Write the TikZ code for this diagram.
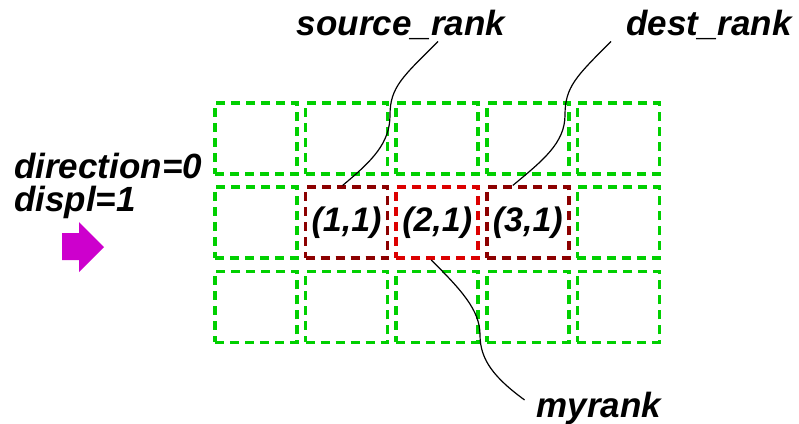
\documentclass[tikz,border=0pt]{standalone}
\usepackage{fontspec}
\setmainfont{Liberation Sans}
\usepackage{xcolor}
\usetikzlibrary{positioning}
\definecolor{gridgreen}{RGB}{0,208,0}
\definecolor{nbred}{RGB}{140,0,0}
\definecolor{myred}{RGB}{220,0,0}
\definecolor{shiftmag}{RGB}{205,0,205}
\tikzset{
  cell/.style={draw=gridgreen, line width=3.5pt, dash pattern=on 9pt off 6pt,
               minimum width=82pt, minimum height=71pt, inner sep=0pt},
  nbcell/.style={cell, draw=nbred, font=\fontsize{34}{38}\selectfont\bfseries\itshape},
  mecell/.style={nbcell, draw=myred},
  lbl/.style={font=\fontsize{35}{40}\selectfont\bfseries\itshape, inner sep=2pt},
  lead/.style={line width=1.2pt, black},
}
\begin{document}
\begin{tikzpicture}[x=1pt, y=-1pt]
\useasboundingbox (0,0) rectangle (799,423);
% process grid
\foreach \i in {0,...,4}
  \foreach \j in {0,1,2}
    \node[cell] (c\i\j) at (256+90.6*\i, 138.5+84.2*\j) {};
% source, me, destination
\node[nbcell] (r11) at (c11) {(1,1)};
\node[mecell] (r21) at (c21) {(2,1)};
\node[nbcell] (r31) at (c31) {(3,1)};
% labels
\node[lbl, anchor=base] (src) at (401,35) {source\_rank};
\node[lbl, anchor=base] (dst) at (709,35) {dest\_rank};
\node[lbl, anchor=base] (me) at (599,417) {myrank};
\node[lbl, anchor=base west, inner sep=0pt] (dir) at (14,178) {direction=0};
\node[lbl, anchor=base west, inner sep=0pt] (dsp) at (14,211) {displ=1};
% shift arrow
\fill[shiftmag] (62,233) -- (79,233) -- (79,222) -- (104,247) -- (79,272)
  -- (79,260) -- (62,260) -- cycle;
% leaders
\draw[lead] ([xshift=37pt]src.south) .. controls +(-35,35) and +(0,-28) .. (390,115)
  .. controls +(0,28) and +(30,-25) .. ([xshift=-4pt]r11.north);
\draw[lead] ([xshift=-98pt]dst.south) .. controls +(-35,35) and +(0,-28) .. (565,115)
  .. controls +(0,28) and +(30,-25) .. ([xshift=-15pt]r31.north);
\draw[lead] ([xshift=-6pt]r21.south) .. controls +(30,30) and +(0,-25) .. (480,335)
  .. controls +(0,25) and +(-30,-22) .. ([shift={(-10,-8)}]me.west);
\end{tikzpicture}
\end{document}
